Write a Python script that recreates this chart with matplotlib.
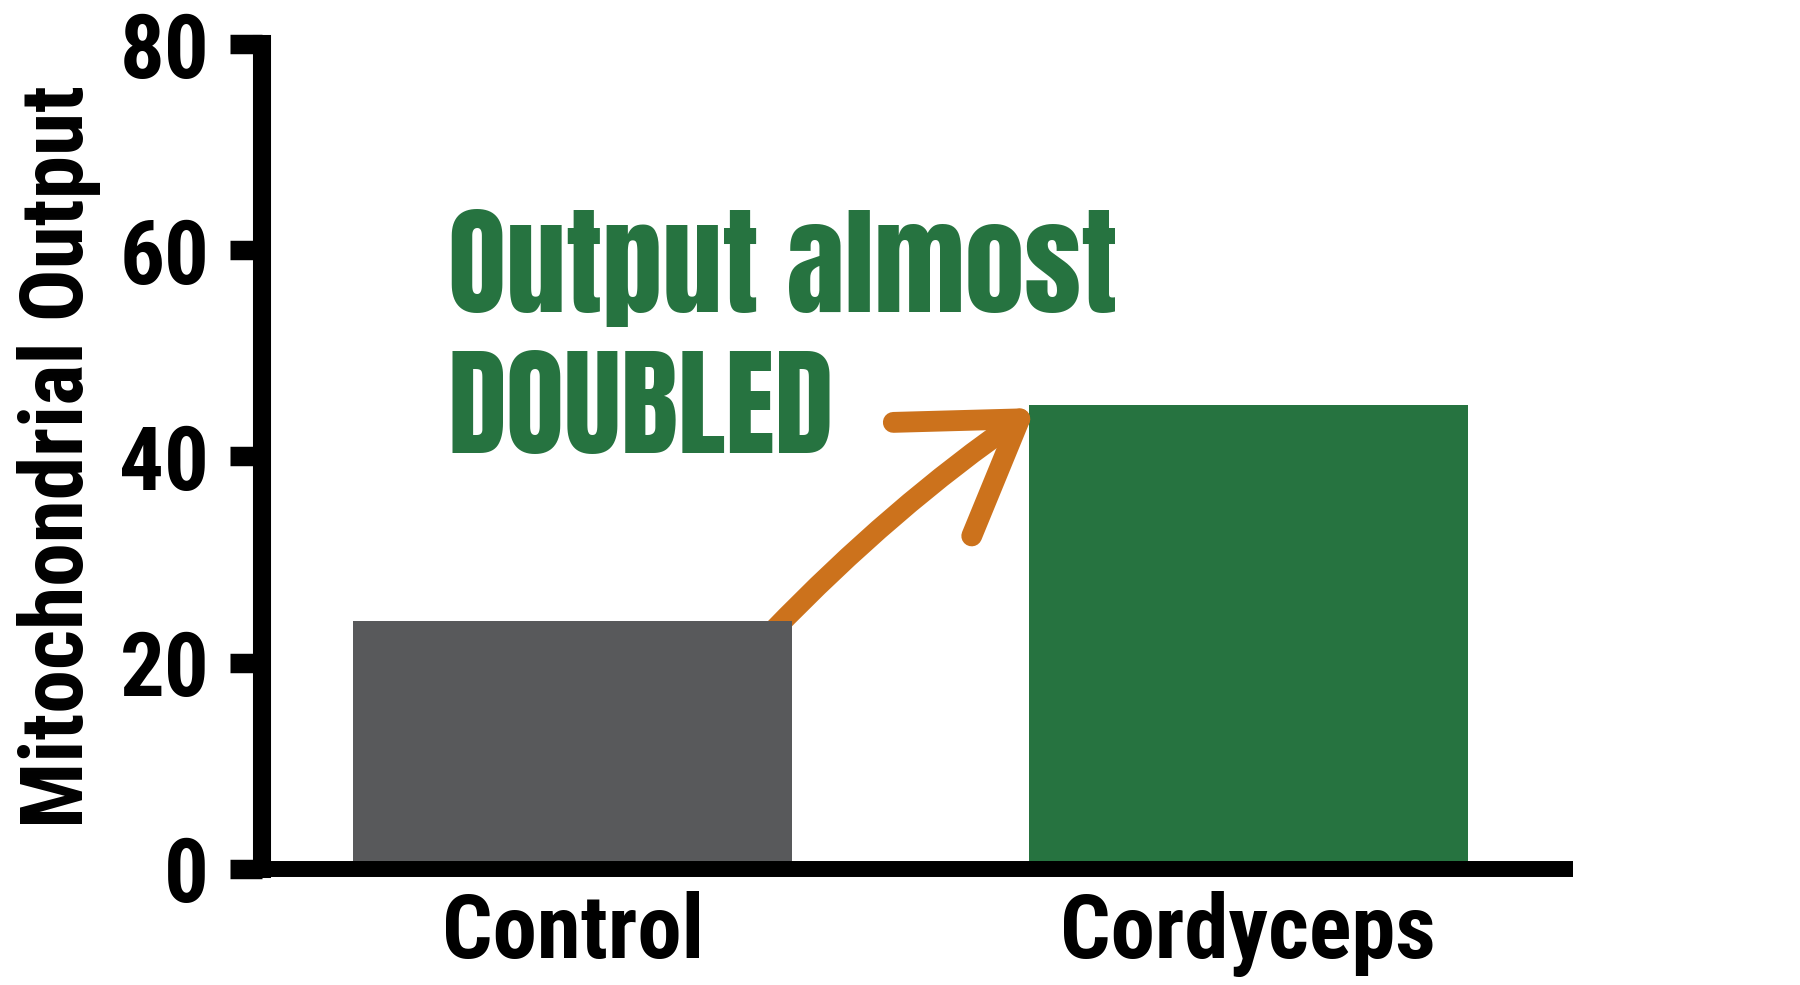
import numpy as np
import matplotlib
matplotlib.use('Agg')
import matplotlib.pyplot as plt
from matplotlib.patches import FancyArrowPatch, ArrowStyle

categories = ['Control', 'Cordyceps']
values = [24, 45]
bar_colors = ['#58595B', '#267340']
yticks = [0, 20, 40, 60, 80]
ylabel = 'Mitochondrial Output'
note = 'Output almost\nDOUBLED'

cond_font = ['Roboto Condensed', 'Liberation Sans Narrow', 'DejaVu Sans']

fig = plt.figure(figsize=(18, 9.85), dpi=100)
ax = fig.add_axes([0.1456, 0.1178, 0.874 - 0.1456, 0.9553 - 0.1178])

x = np.arange(len(categories))
bars = ax.bar(x, values, width=0.65, color=bar_colors, zorder=2)
bars[0].set_zorder(4)

ax.set_xlim(-0.46, 1.481)
ax.set_ylim(0, 80)
ax.set_yticks(yticks)
ax.set_xticks(x)
ax.set_xticklabels(categories)

for s in ['top', 'right']:
    ax.spines[s].set_visible(False)
ax.spines['left'].set_linewidth(13)
ax.spines['bottom'].set_linewidth(11.5)
ax.spines['left'].set_capstyle('projecting')
ax.spines['bottom'].set_capstyle('butt')
ax.spines['left'].set_zorder(6)
ax.spines['bottom'].set_zorder(6)

ax.tick_params(axis='y', length=23, width=14, pad=15, direction='out')
ax.tick_params(axis='x', length=0, pad=16)
for lab in ax.get_yticklabels() + ax.get_xticklabels():
    lab.set_fontfamily(cond_font)
    lab.set_fontweight('bold')
    lab.set_fontsize(64)

ax.set_ylabel(ylabel, family=['Roboto Condensed', 'Roboto', 'DejaVu Sans'],
              fontweight='black', fontsize=63)
ax.yaxis.set_label_coords(-0.123, 0.5)

# hand-drawn style arrow from the control bar up to the cordyceps bar
w = 0.65
start = (x[0] + w / 2 - 0.03, values[0] - 1)
end = (x[1] - w / 2 + 0.01, values[1] - 0.3)
arr = FancyArrowPatch(start, end, connectionstyle='arc3,rad=-0.05',
                      arrowstyle=ArrowStyle('->', head_length=1.66, head_width=1.08),
                      mutation_scale=46, lw=15, color='#CC721C',
                      capstyle='round', joinstyle='round', shrinkA=0, shrinkB=0, zorder=3)
ax.add_patch(arr)

fig.text(448 / 1800, 1 - 209 / 985, note, ha='left', va='top', color='#267340',
         family=['Anton', 'Liberation Sans Narrow', 'DejaVu Sans'],
         fontsize=86, linespacing=1.24)

fig.savefig('out.png', dpi=100)
